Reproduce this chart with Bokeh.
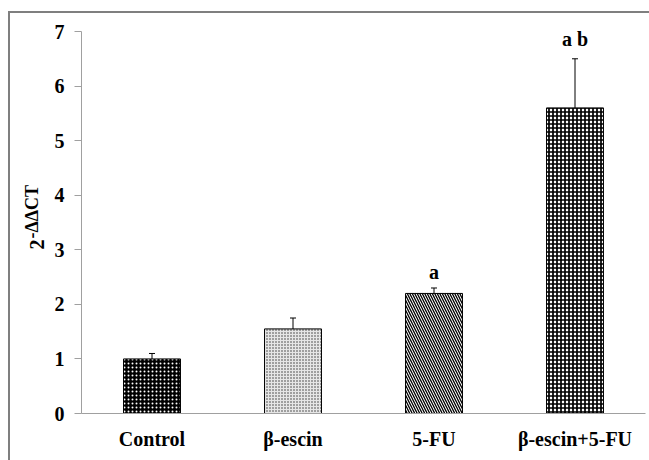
import numpy as np
from bokeh.plotting import figure
from bokeh.models import (ColumnDataSource, FixedTicker, Whisker, Label)
from bokeh.core.properties import value
from bokeh.embed import file_html
from bokeh.resources import INLINE

categories = ["Control", "\u03b2-escin", "5-FU", "\u03b2-escin+5-FU"]
means = [1.0, 1.55, 2.2, 5.6]
errors = [0.1, 0.2, 0.1, 0.9]
sig_labels = ["", "", "a", "a b"]
sig_y = [0, 0, 2.6, 6.86]
y_ticks = [0, 1, 2, 3, 4, 5, 6, 7]

FONT = "'Liberation Serif', 'Times New Roman', serif"
xs = list(range(1, len(categories) + 1))

# canvas starts at page (10, 13) because of the CSS margin + border
PX = 141.0          # pixels per category
PY = 382.0 / 7.0    # pixels per y unit
p = figure(width=639, height=447, output_backend="svg", toolbar_location=None,
           x_range=(0.5 - 71 / PX, 4.5 + 4 / PX),
           y_range=(-47 / PY, 7 + 18 / PY),
           min_border_left=0, min_border_right=0, min_border_top=0, min_border_bottom=0,
           frame_width=639, frame_height=447)
p.outline_line_color = None
p.grid.grid_line_color = None
p.background_fill_color = "white"
p.styles = {"margin-left": "8px", "margin-top": "11px",
            "border-top": "2px solid #7f7f7f", "border-left": "2px solid #7f7f7f"}

styles = [
    dict(fill_color="black", hatch_pattern="dot", hatch_color="white", hatch_scale=4, hatch_weight=1),
    dict(fill_color="#e6e6e6", hatch_pattern="dot", hatch_color="#333333", hatch_scale=3, hatch_weight=1),
    dict(fill_color="white", hatch_pattern="left_diagonal_line", hatch_color="black", hatch_scale=5, hatch_weight=1.3),
    dict(fill_color="white", hatch_pattern="cross", hatch_color="black", hatch_scale=4, hatch_weight=1.7),
]
for i, st in enumerate(styles):
    src = ColumnDataSource(dict(x=[xs[i]], top=[means[i]]))
    p.vbar(x="x", top="top", bottom=0, width=0.404, source=src,
           line_color="black", line_width=1, **st)

lower = [m - e for m, e in zip(means, errors)]
upper = [m + e for m, e in zip(means, errors)]
wsrc = ColumnDataSource(dict(base=xs, lower=lower, upper=upper))
w = Whisker(base="base", lower="lower", upper="upper", source=wsrc,
            line_color="black", line_width=1)
w.upper_head.size = 6
w.lower_head.size = 6
w.upper_head.line_color = "black"
w.lower_head.line_color = "black"
p.add_layout(w)

tsrc = ColumnDataSource(dict(x=xs, y=sig_y, t=sig_labels))
p.text(x="x", y="y", text="t", source=tsrc, text_font=value(FONT),
       text_font_style="bold", text_font_size="20px", text_align="center",
       text_baseline="middle", text_color="black")

# y axis drawn at the left edge of the first category slot
p.yaxis.fixed_location = 0.5
p.yaxis.bounds = (0, 7)
p.yaxis.ticker = FixedTicker(ticks=y_ticks)
p.yaxis.major_label_text_font = FONT
p.yaxis.major_label_text_font_style = "bold"
p.yaxis.major_label_text_font_size = "20px"
p.yaxis.major_label_text_color = "black"
p.yaxis.major_tick_out = 7
p.yaxis.major_tick_in = 0
p.yaxis.minor_tick_line_color = None
p.yaxis.axis_line_color = "#a0a0a0"
p.yaxis.major_tick_line_color = "#a0a0a0"
p.yaxis.major_label_standoff = 10

# x axis drawn at y = 0
p.xaxis.fixed_location = 0
p.xaxis.bounds = (0.5, 4.5)
p.xaxis.ticker = FixedTicker(ticks=xs)
p.xaxis.major_label_overrides = {x: c for x, c in zip(xs, categories)}
p.xaxis.major_label_text_font = FONT
p.xaxis.major_label_text_font_style = "bold"
p.xaxis.major_label_text_font_size = "20px"
p.xaxis.major_label_text_color = "black"
p.xaxis.major_tick_out = 0
p.xaxis.major_tick_in = 0
p.xaxis.minor_tick_line_color = None
p.xaxis.axis_line_color = "#a0a0a0"
p.xaxis.major_label_standoff = 14

# y axis title 2^-ΔΔCT
p.add_layout(Label(x=26, y=211, x_units="screen", y_units="screen", text="2",
                   angle=np.pi / 2, text_font=FONT, text_font_style="bold",
                   text_font_size="20px", text_align="left", text_baseline="alphabetic",
                   text_color="black"))
p.add_layout(Label(x=21, y=222, x_units="screen", y_units="screen", text="-\u0394\u0394CT",
                   angle=np.pi / 2, text_font=FONT, text_font_style="bold",
                   text_font_size="18px", text_align="left", text_baseline="alphabetic",
                   text_color="black"))

open("out.html", "w").write(file_html(p, INLINE))
